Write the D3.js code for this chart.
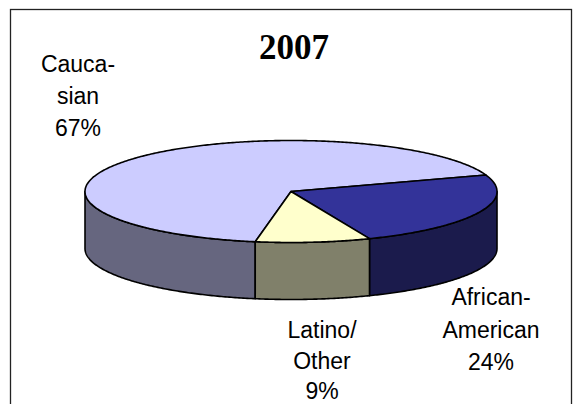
<!DOCTYPE html>
<html>
<head>
<meta charset="utf-8">
<script src="https://cdn.jsdelivr.net/npm/d3@7"></script>
<style>
  html, body { margin: 0; padding: 0; background: #fff; }
  svg { display: block; }
</style>
</head>
<body>
<svg id="chart" width="576" height="404"></svg>
<script>
// Ethnic composition, 2007
const categories = ["Caucasian", "African-American", "Latino/Other"];
const values = [67, 24, 9];
const labelLines = [["Cauca-", "sian", "67%"], ["African-", "American", "24%"], ["Latino/", "Other", "9%"]];
const topColors = ["#ccccff", "#333399", "#ffffcc"];
const sideColors = ["#66667f", "#1b1b4c", "#80806a"];
const title = "2007";

const svg = d3.select("#chart");

// frame
svg.append("rect")
  .attr("x", 10.5).attr("y", 9.5)
  .attr("width", 561).attr("height", 420)
  .attr("fill", "#fff").attr("stroke", "#222").attr("stroke-width", 1.3);

// title
svg.append("text")
  .attr("x", 294).attr("y", 59)
  .attr("text-anchor", "middle")
  .attr("font-family", "'Liberation Serif', 'Times New Roman', serif")
  .attr("font-weight", "bold")
  .attr("font-size", 35)
  .text(title);

// 3D pie geometry
const cx = 291, cy = 191.5, rx = 206, ry = 51, depth = 57;

const pie = d3.pie().sort(null)
  .startAngle(190 * Math.PI / 180)
  .endAngle((190 + 360) * Math.PI / 180);
const arcs = pie(values);

// d3 angle (0 = north, clockwise) -> point on the tilted ellipse
const px = a => cx + rx * Math.sin(a);
const py = (a, dy = 0) => cy - ry * Math.cos(a) + dy;

const line = d3.line();
const sample = (a0, a1, dy) => {
  const n = Math.max(2, Math.ceil(Math.abs(a1 - a0) / 0.01));
  return d3.range(n + 1).map(i => {
    const a = a0 + (a1 - a0) * i / n;
    return [px(a), py(a, dy)];
  });
};

const stroke = "#000", sw = 1.6;

// front walls: visible where the rim faces the viewer (d3 angle between 90° and 270°, mod 360)
const TAU = 2 * Math.PI;
const wallG = svg.append("g");
arcs.forEach((d, i) => {
  [-TAU, 0, TAU].forEach(shift => {
    const lo = Math.max(d.startAngle + shift, Math.PI / 2);
    const hi = Math.min(d.endAngle + shift, 3 * Math.PI / 2);
    if (hi - lo > 1e-6) {
      const topEdge = sample(lo, hi, 0);
      const botEdge = sample(hi, lo, depth);
      wallG.append("path")
        .attr("d", line(topEdge.concat(botEdge)) + "Z")
        .attr("fill", sideColors[i])
        .attr("stroke", stroke).attr("stroke-width", sw)
        .attr("stroke-linejoin", "round");
    }
  });
});

// top faces
const topG = svg.append("g");
arcs.forEach((d, i) => {
  const pts = [[cx, cy]].concat(sample(d.startAngle, d.endAngle, 0));
  topG.append("path")
    .attr("d", line(pts) + "Z")
    .attr("fill", topColors[i])
    .attr("stroke", stroke).attr("stroke-width", sw)
    .attr("stroke-linejoin", "round");
});

// labels
const labelPos = [[78, 72], [491, 305], [322, 338]];
const lineGaps = [32, 32.5, 30.5];
const lg = svg.append("g")
  .attr("font-family", "'Liberation Sans', Arial, sans-serif")
  .attr("font-size", 23)
  .attr("fill", "#000")
  .attr("text-anchor", "middle");
labelLines.forEach((lines, i) => {
  const t = lg.append("text")
    .attr("x", labelPos[i][0]).attr("y", labelPos[i][1]);
  lines.forEach((s, k) => {
    t.append("tspan")
      .attr("x", labelPos[i][0])
      .attr("dy", k === 0 ? 0 : lineGaps[i])
      .text(s);
  });
});
</script>
</body>
</html>
